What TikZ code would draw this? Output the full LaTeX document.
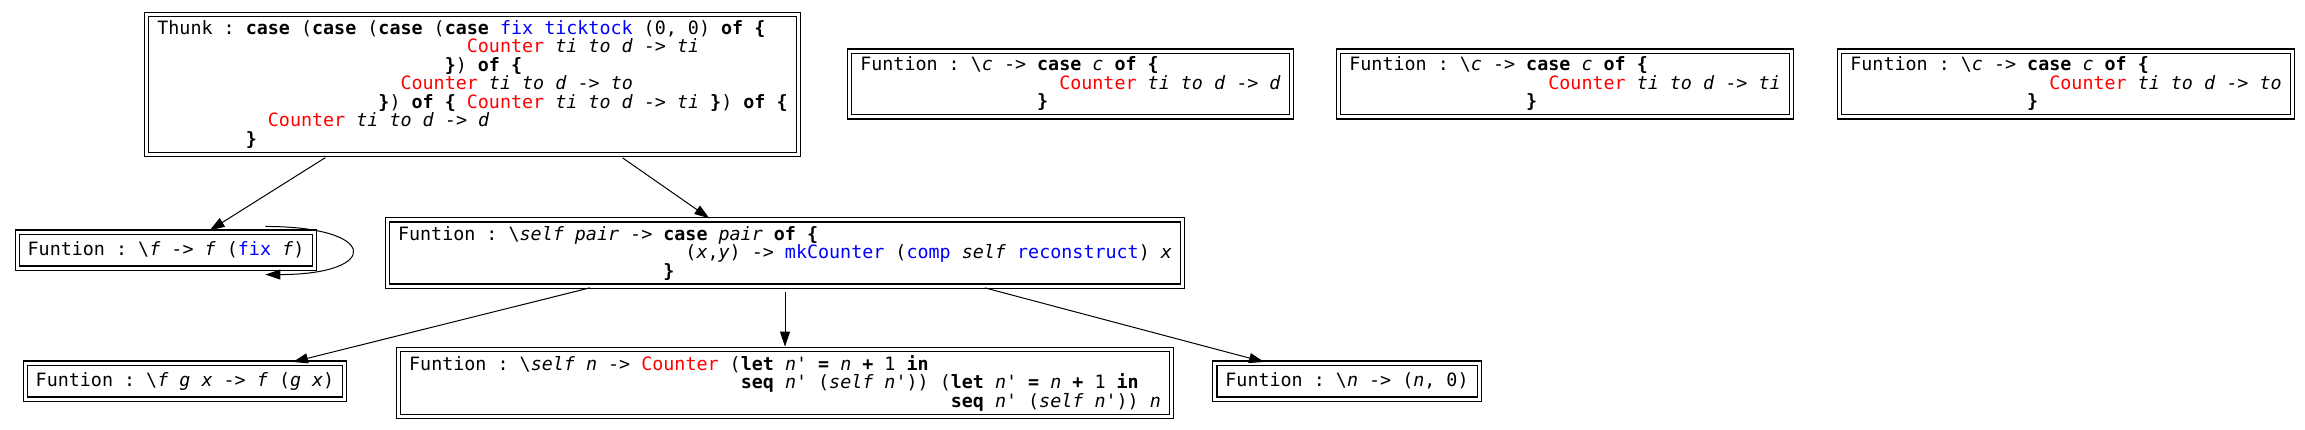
\documentclass[tikz,border=0pt]{standalone}
\usepackage{fontspec}
\setmonofont{DejaVu Sans Mono}
\usepackage{tikz}
\usetikzlibrary{ arrows.meta, % For the filled arrow heads
               }

\newcommand{\kw}[1]{\textbf{#1}}
\newcommand{\vr}[1]{\textit{#1}}
\newcommand{\con}[1]{\textcolor{red}{#1}}
\newcommand{\fn}[1]{\textcolor{blue}{#1}}
\newcommand{\ind}[1]{\hspace*{#1\fontdimen2\font}}
\newcommand{\bsl}{\textbackslash}

\begin{document}
\begin{tikzpicture}[x=1pt, y=-1pt, % pixel coordinates, y going down
  box/.style={draw, double, double distance=3pt, line width=1.1pt, align=left,
              inner xsep=10.5pt, inner ysep=6pt, minimum height=36pt,
              font=\ttfamily\fontsize{18.36}{18.5}\selectfont},
  arr/.style={-{Triangle[length=15pt, width=10pt]}, line width=1pt, shorten <=5pt, shorten >=2pt}]
  \useasboundingbox (0,0) rectangle (2305,429);

  \node[box] (thunk) at (472.5,84.5) {Thunk : \kw{case} (\kw{case} (\kw{case} (\kw{case} \fn{fix ticktock} (0, 0) \kw{of \{}\\
    \ind{28}\con{Counter} \vr{ti to d} -> \vr{ti}\\
    \ind{26}\kw{\}}) \kw{of \{}\\
    \ind{22}\con{Counter} \vr{ti to d} -> \vr{to}\\
    \ind{20}\kw{\}}) \kw{of \{} \con{Counter} \vr{ti to d} -> \vr{ti} \kw{\}}) \kw{of \{}\\
    \ind{10}\con{Counter} \vr{ti to d} -> \vr{d}\\
    \ind{8}\kw{\}}};

  \node[box] (fun_d) at (1070.5,84) {Funtion : \bsl\vr{c} -> \kw{case} \vr{c} \kw{of \{}\\
    \ind{18}\con{Counter} \vr{ti to d} -> \vr{d}\\
    \ind{16}\kw{\}}};
  \node[box] (fun_ti) at (1565,84) {Funtion : \bsl\vr{c} -> \kw{case} \vr{c} \kw{of \{}\\
    \ind{18}\con{Counter} \vr{ti to d} -> \vr{ti}\\
    \ind{16}\kw{\}}};
  \node[box] (fun_to) at (2066,84) {Funtion : \bsl\vr{c} -> \kw{case} \vr{c} \kw{of \{}\\
    \ind{18}\con{Counter} \vr{ti to d} -> \vr{to}\\
    \ind{16}\kw{\}}};

  \node[box] (fun_fix) at (166,250) {Funtion : \bsl\vr{f} -> \vr{f} (\fn{fix} \vr{f})};
  \node[box] (fun_pair) at (785,253) {Funtion : \bsl\vr{self pair} -> \kw{case} \vr{pair} \kw{of \{}\\
    \ind{26}(\vr{x},\vr{y}) -> \fn{mkCounter} (\fn{comp} \vr{self} \fn{reconstruct}) \vr{x}\\
    \ind{24}\kw{\}}};

  \node[box] (fun_comp) at (185,381) {Funtion : \bsl\vr{f g x} -> \vr{f} (\vr{g x})};
  \node[box] (fun_succ) at (785,383) {Funtion : \bsl\vr{self n} -> \con{Counter} (\kw{let} \vr{n}' \kw{=} \vr{n} \kw{+} 1 \kw{in}\\
    \ind{30}\kw{seq} \vr{n}' (\vr{self n}')) (\kw{let} \vr{n}' \kw{=} \vr{n} \kw{+} 1 \kw{in}\\
    \ind{49}\kw{seq} \vr{n}' (\vr{self n}')) \vr{n}};
  \node[box] (fun_zero) at (1347,381) {Funtion : \bsl\vr{n} -> (\vr{n}, 0)};

  \draw[arr] ([xshift=-143pt]thunk.south) -- ([xshift=42pt]fun_fix.north);
  \draw[arr] ([xshift=146pt]thunk.south) -- ([xshift=-74pt]fun_pair.north);
  \draw[arr, shorten <=0pt, shorten >=0pt] ([xshift=-50pt, yshift=5pt]fun_fix.north east)
    .. controls +(115,0) and +(115,0) .. ([xshift=-50pt, yshift=-6pt]fun_fix.south east);
  \draw[arr] ([xshift=-190pt]fun_pair.south) -- ([xshift=106pt]fun_comp.north);
  \draw[arr] (fun_pair) -- (fun_succ);
  \draw[arr] ([xshift=195pt]fun_pair.south) -- ([xshift=-81pt]fun_zero.north);
\end{tikzpicture}
\end{document}
